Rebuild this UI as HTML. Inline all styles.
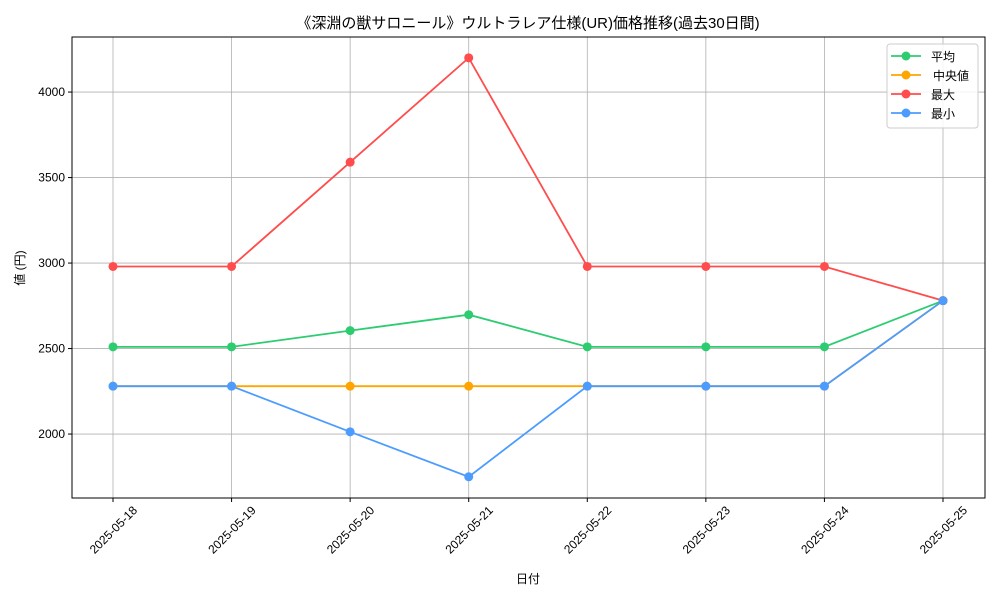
<!DOCTYPE html>
<html><head><meta charset="utf-8"><style>
body{margin:0;background:#fff;}
svg text{font-family:"Liberation Sans","Noto Sans CJK JP",sans-serif;fill:#000;}
</style></head><body>
<svg id="chart" width="1000" height="600" viewBox="0 0 1000 600" xmlns="http://www.w3.org/2000/svg">
<rect width="1000" height="600" fill="#fff"/>
<text x="528" y="28" text-anchor="middle" font-size="15">《深淵の獣サロニール》ウルトラレア仕様(UR)価格推移(過去30日間)</text>
<g id="grid"></g>
<g id="series"></g>
<rect x="72" y="37" width="913" height="461" fill="none" stroke="#000" stroke-width="1"/>
<g id="axes"></g>
<text x="528" y="583" text-anchor="middle" font-size="12">日付</text>
<text x="24" y="268" text-anchor="middle" font-size="12" transform="rotate(-90 24 268)">値 (円)</text>
<g id="legend"></g>
</svg>
<script>
const categories=["2025-05-18","2025-05-19","2025-05-20","2025-05-21","2025-05-22","2025-05-23","2025-05-24","2025-05-25"];
const avgValues=[2510,2510,2605,2698,2510,2510,2510,2780];
const medianValues=[2280,2280,2280,2280,2280,2280,2280,2780];
const maxValues=[2980,2980,3590,4200,2980,2980,2980,2780];
const minValues=[2280,2280,2013,1750,2280,2280,2280,2780];
const yTicks=[2000,2500,3000,3500,4000];
const seriesNames=["平均","中央値","最大","最小"];
const NS="http://www.w3.org/2000/svg";
const L=72,R=985,T=37,B=498,yMin=1626,yMax=4322;
const xS=i=>113+i*(943-113)/(categories.length-1);
const yS=v=>B-(v-yMin)/(yMax-yMin)*(B-T);
function mk(tag,attrs,parent){const e=document.createElementNS(NS,tag);for(const k in attrs)e.setAttribute(k,attrs[k]);parent.appendChild(e);return e;}
const grid=document.getElementById('grid'),axes=document.getElementById('axes'),ser=document.getElementById('series'),leg=document.getElementById('legend');
categories.forEach((c,i)=>{const x=xS(i);
 const g=mk('line',{x1:x,x2:x,y1:T,y2:B,stroke:'#b0b0b0','stroke-width':0.8},grid);
 
 
 const t=mk('line',{x1:x,x2:x,y1:B,y2:B+4,stroke:'#000'},axes);
 
 
 const tx=mk('text',{x:x+25,y:511,'text-anchor':'end','font-size':12,transform:`rotate(-45 ${x+25} 511)`},axes);
 tx.textContent=c;
 
 
});
yTicks.forEach(v=>{const y=yS(v);
 const g=mk('line',{x1:L,x2:R,y1:y,y2:y,stroke:'#b0b0b0','stroke-width':0.8},grid);
 
 
 const t=mk('line',{x1:L-4,x2:L,y1:y,y2:y,stroke:'#000'},axes);
 
 
 const tx=mk('text',{x:L-7,y:y+4,'text-anchor':'end','font-size':12},axes);
 tx.textContent=v;
 
 
});
const colors=["#2ecc71","#ffa500","#ff4c4c","#4c9cff"];
const data=[avgValues,medianValues,maxValues,minValues];
const keys=["avg","median","max","min"];
data.forEach((arr,s)=>{
 const p=mk('polyline',{points:arr.map((v,i)=>xS(i)+','+yS(v)).join(' '),fill:'none',stroke:colors[s],'stroke-width':1.8},ser);
 
 
 arr.forEach((v,i)=>{const c=mk('circle',{cx:xS(i),cy:yS(v),r:4.5,fill:colors[s]},ser);
  
  });
});
const bg=mk('rect',{x:887,y:44,width:91,height:84,rx:3,fill:'#fff','fill-opacity':0.85,stroke:'#ccc'},leg);


seriesNames.forEach((n,s)=>{const y=56+s*19;
 const g=mk('g',{},leg);
 
 
 mk('line',{x1:891,x2:921,y1:y,y2:y,stroke:colors[s],'stroke-width':1.8},g);
 mk('circle',{cx:906,cy:y,r:4.5,fill:colors[s]},g);
 const t=mk('text',{x:s==1?933:931,y:y+5,'font-size':12},g);t.textContent=n;
});
</script>
</body></html>
